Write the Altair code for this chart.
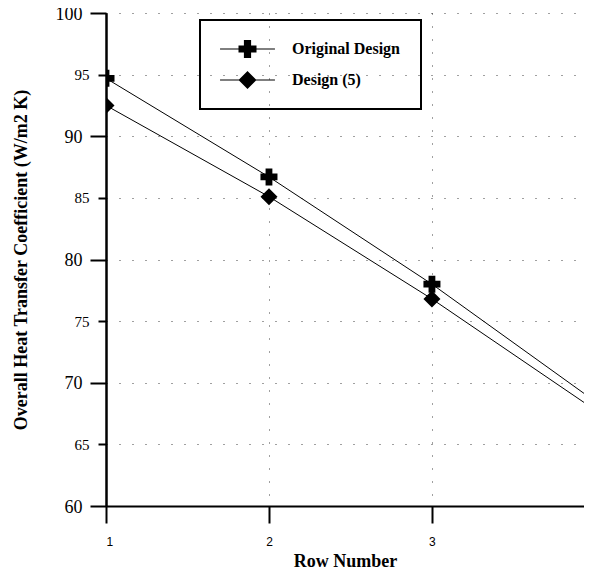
import altair as alt
import pandas as pd

rows = [1, 2, 3, 4]
original_design = [94.7, 86.7, 78.0, 68.5]
design_5 = [92.5, 85.1, 76.8, 67.8]
series_names = ["Original Design", "Design (5)"]
y_major_ticks = [60, 70, 80, 90, 100]
y_minor_ticks = [65, 75, 85, 95]
x_ticks = [1, 2, 3]

df = pd.DataFrame({
    "row": rows + rows,
    "value": original_design + design_5,
    "series": [series_names[0]] * len(rows) + [series_names[1]] * len(rows),
})

SERIF = "Liberation Serif"
SANS = "Liberation Sans"

# legend symbols: marker with a short line stub through it
cross_path = "M-3.05,-0.06H3.05V0.06H-3.05Z M-1,-0.4H1V0.4H-1Z M-0.4,-1H0.4V1H-0.4Z"
diamond_path = "M-3.05,-0.06H3.05V0.06H-3.05Z M-1,0L0,-1L1,0L0,1Z"

grid_style = dict(grid=True, gridDash=[1, 12], gridColor="black", gridWidth=1, gridOpacity=0.75)

x_scale = alt.Scale(domain=[1, 3.933], nice=False, zero=False)
y_scale = alt.Scale(domain=[60, 100], nice=False, zero=False)

x_enc = alt.X(
    "row:Q", scale=x_scale,
    axis=alt.Axis(
        values=x_ticks, title="Row Number", format="d",
        domainColor="black", domainWidth=2,
        tickColor="black", tickWidth=2, tickSize=17,
        labelFont=SANS, labelFontSize=12, labelColor="black", labelPadding=13,
        titleFont=SERIF, titleFontSize=18, titleFontWeight="bold", titleColor="black",
        titlePadding=5, **grid_style,
    ),
)

y_major = alt.Y(
    "value:Q", scale=y_scale,
    axis=alt.Axis(
        orient="left", values=y_major_ticks,
        title="Overall Heat Transfer Coefficient (W/m2 K)",
        domainColor="black", domainWidth=2,
        tickColor="black", tickWidth=2, tickSize=16,
        labelFont=SERIF, labelFontSize=18, labelColor="black", labelPadding=8,
        labelOffset=1,
        titleFont=SERIF, titleFontSize=18, titleFontWeight="bold", titleColor="black",
        titlePadding=25, **grid_style,
    ),
)

y_minor = alt.Y(
    "value:Q", scale=y_scale,
    axis=alt.Axis(
        orient="left", values=y_minor_ticks, title=None,
        domainColor="black", domainWidth=2,
        tickColor="black", tickWidth=2, tickSize=8,
        labelFont=SERIF, labelFontSize=15, labelColor="black", labelPadding=9,
        **grid_style,
    ),
)

base = alt.Chart(df)

lines = base.mark_line(color="black", strokeWidth=1, clip=True).encode(
    x=x_enc, y=y_major, detail="series:N"
)

points = base.mark_point(filled=True, color="black", size=289, opacity=1, clip=True).encode(
    x=x_enc, y=y_minor,
    shape=alt.Shape(
        "series:N",
        scale=alt.Scale(domain=series_names, range=["cross", "diamond"]),
        legend=None,
    ),
)

legend_layer = base.mark_point(filled=True, color="black", size=324, opacity=0, clip=True).encode(
    x=x_enc,
    y=alt.Y("value:Q", scale=y_scale, axis=None),
    shape=alt.Shape(
        "series:N",
        scale=alt.Scale(domain=series_names, range=[cross_path, diamond_path]),
        legend=alt.Legend(
            title=" ", titleOrient="left", titleFontSize=1, titlePadding=18.5,
            orient="none", legendX=94, legendY=7,
            strokeColor="black", padding=20, rowPadding=13,
            labelOffset=35.5,
            labelFont=SERIF, labelFontWeight="bold", labelFontSize=16, labelColor="black",
            symbolFillColor="black", symbolStrokeColor="black", symbolStrokeWidth=0,
            symbolOpacity=1, symbolSize=324,
        ),
    ),
)

chart = (
    alt.layer(lines, points, legend_layer)
    .resolve_scale(shape="independent")
    .resolve_axis(y="independent")
    .properties(
        width=478, height=493,
        padding={"left": 98, "top": 5, "right": 0, "bottom": 66},
        autosize=alt.AutoSizeParams(type="none"),
    )
    .configure_view(stroke=None)
    .configure_legend(strokeWidth=2)
)

chart.save("out.html", embed_options={"renderer": "svg", "actions": False})
